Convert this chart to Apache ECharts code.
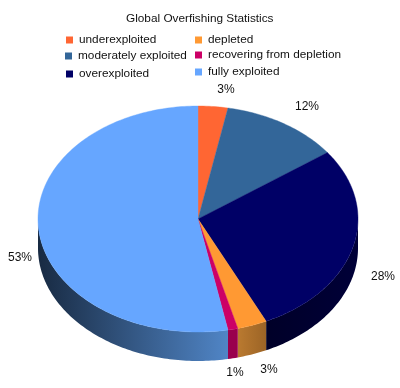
<!DOCTYPE html>
<html><head><meta charset="utf-8">
<style>html,body{margin:0;padding:0;background:#fff}#c{width:400px;height:388px}</style>
<script src="https://cdn.jsdelivr.net/npm/echarts@6/dist/echarts.min.js"></script>
</head><body><div id="c"></div>
<script>
const titleText = 'Global Overfishing Statistics';
const categories = ['underexploited','moderately exploited','overexploited','depleted','recovering from depletion','fully exploited'];
const shares = [3,12,28,3,1,53];
const topColors = ['#FF6633','#336699','#000066','#FF9933','#CC0066','#66A6FF'];
const wallStops = [['#993d1f','#993d1f'],['#1f3d5c','#1f3d5c'],['#000028','#000038'],['#ba7a30','#9c6426'],['#99004d','#99004d'],['#182a42','#5085c6']];
const labelPos = [[226,90],[307,107],[383,277],[269,370],[235,373],[20,258]];
const legendPos = [[66,34],[65,50],[66,68],[195,34],[195,49],[195,66]];
const pie = {cx:198, cy:219, rx:160, ry:113, depth:29};
const FONT = '"Liberation Sans", Arial, sans-serif';
const total = shares.reduce((a,b)=>a+b,0);
const pt = (deg,dy=0)=>{const t=deg*Math.PI/180;return [pie.cx+pie.rx*Math.sin(t), pie.cy-pie.ry*Math.cos(t)+dy];};
function arc(a,b,dy){const out=[];const n=Math.max(2,Math.ceil(Math.abs(b-a)));for(let i=0;i<=n;i++)out.push(pt(a+(b-a)*i/n,dy));return out;}
const chart = echarts.init(document.getElementById('c'),null,{renderer:'canvas'});
let acc=0;
const series = categories.map((name,i)=>{
  const start=acc/total*360; acc+=shares[i]; const end=acc/total*360;
  return {
    type:'custom', name, coordinateSystem:'none', data:[shares[i]], color:topColors[i], silent:true, animation:false,
    renderItem(){
      const kids=[];
      const a=Math.max(start,90), b=Math.min(end,270);
      if(b>a){
        const up=arc(a,b,0), dn=arc(b,a,pie.depth);
        const xs=up.map(p=>p[0]);
        kids.push({type:'polygon',shape:{points:up.concat(dn)},style:{
          fill:new echarts.graphic.LinearGradient(Math.min(...xs),0,Math.max(...xs),0,[{offset:0,color:wallStops[i][0]},{offset:1,color:wallStops[i][1]}],true),
          stroke:null}});
      }
      kids.push({type:'polygon',shape:{points:[[pie.cx,pie.cy]].concat(arc(start,end,0))},style:{fill:topColors[i],stroke:topColors[i],lineWidth:0.4}});
      kids.push({type:'text',x:labelPos[i][0],y:labelPos[i][1],style:{text:shares[i]+'%',font:'12px '+FONT,fill:'#111',align:'center',verticalAlign:'middle'}});
      return {type:'group',children:kids};
    }
  };
});
chart.setOption({
  animation:false,
  title:{text:titleText,left:121,top:8,textStyle:{fontFamily:FONT,fontSize:11.8,fontWeight:'normal',color:'#111'}},
  legend:categories.map((name,i)=>({
    data:[name],left:legendPos[i][0],top:legendPos[i][1],itemWidth:7,itemHeight:7,itemGap:0,padding:0,selectedMode:false,icon:'rect',
    textStyle:{fontFamily:FONT,fontSize:11.8,color:'#111',padding:[0,0,0,1]}
  })),
  series
});
</script></body></html>
